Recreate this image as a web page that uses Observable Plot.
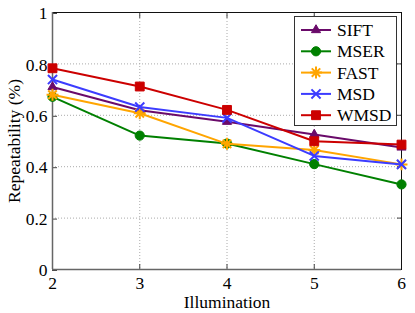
<!DOCTYPE html>
<html><head><meta charset="utf-8">
<script src="https://cdn.jsdelivr.net/npm/d3@7"></script>
<script src="https://cdn.jsdelivr.net/npm/@observablehq/plot@0.6"></script>
<style>body{margin:0;background:#fff;} #chart{width:415px;height:313px;}</style>
</head><body><div id="chart"></div>
<script>
const illumination = [2, 3, 4, 5, 6];
const SIFT = [0.71, 0.62, 0.575, 0.525, 0.475];
const MSER = [0.672, 0.521, 0.49, 0.41, 0.331];
const FAST = [0.68, 0.608, 0.489, 0.465, 0.409];
const MSD  = [0.739, 0.632, 0.59, 0.442, 0.409];
const WMSD = [0.783, 0.712, 0.621, 0.499, 0.486];
const seriesNames = ["SIFT", "MSER", "FAST", "MSD", "WMSD"];
const seriesValues = [SIFT, MSER, FAST, MSD, WMSD];
const seriesColors = ["#6a0a6a", "#008000", "#ffa500", "#3c3cff", "#cc0000"];
const xTicks = [2, 3, 4, 5, 6];
const yTicks = [0, 0.2, 0.4, 0.6, 0.8, 1];
const yTickLabels = ["0", "0.2", "0.4", "0.6", "0.8", "1"];

// custom marker shapes (MATLAB style)
const asterisk8 = {draw(ctx, size) {
  const r = Math.sqrt(size / Math.PI) * 1.15;
  const d = r * Math.SQRT1_2;
  ctx.moveTo(-r, 0); ctx.lineTo(r, 0);
  ctx.moveTo(0, -r); ctx.lineTo(0, r);
  ctx.moveTo(-d, -d); ctx.lineTo(d, d);
  ctx.moveTo(-d, d); ctx.lineTo(d, -d);
}};
const timesX = {draw(ctx, size) {
  const r = Math.sqrt(size / Math.PI) * 0.95;
  ctx.moveTo(-r, -r); ctx.lineTo(r, r);
  ctx.moveTo(-r, r); ctx.lineTo(r, -r);
}};
const symbols = [d3.symbolTriangle, d3.symbolCircle, asterisk8, timesX, d3.symbolSquare];
const filled = [true, true, false, false, true];
const radius = [3.4, 4.6, 5.2, 4.8, 5];

const rows = [];
seriesNames.forEach((name, s) => {
  illumination.forEach((x, i) => rows.push({series: name, s, x, y: seriesValues[s][i]}));
});

const font = "'Liberation Serif', 'Times New Roman', serif";
const marks = [
  Plot.gridX(xTicks, {stroke: "#aaa", strokeOpacity: 1, strokeDasharray: "1,2"}),
  Plot.gridY(yTicks, {stroke: "#aaa", strokeOpacity: 1, strokeDasharray: "1,2"}),
  Plot.axisX(xTicks, {anchor: "bottom", tickSize: -5, tickPadding: 12, stroke: "#444",
    label: "Illumination", labelAnchor: "center", labelArrow: "none", labelOffset: 38, fontSize: 17.5}),
  Plot.axisX(xTicks, {anchor: "top", tickSize: -5, stroke: "#444", label: null, tickFormat: () => ""}),
  Plot.axisY(yTicks, {anchor: "left", tickSize: -5, tickPadding: 10, stroke: "#444", dy: 1,
    tickFormat: d => yTickLabels[yTicks.indexOf(d)],
    label: "Repeatability (%)", labelAnchor: "center", labelArrow: "none", labelOffset: 45, fontSize: 17.5}),
  Plot.axisY(yTicks, {anchor: "right", tickSize: -5, stroke: "#444", label: null, tickFormat: () => ""}),
  Plot.frame({stroke: "#111", strokeWidth: 1}),
  Plot.ruleX([2], {stroke: "#666", strokeWidth: 1.5}),
  Plot.ruleY([0], {stroke: "#666", strokeWidth: 1.5})
];
seriesNames.forEach((name, s) => {
  const data = rows.filter(r => r.s === s);
  marks.push(Plot.line(data, {x: "x", y: "y", stroke: seriesColors[s], strokeWidth: 2}));
  marks.push(Plot.dot(data, {x: "x", y: "y", symbol: () => symbols[s], r: radius[s],
    fill: filled[s] ? seriesColors[s] : "none", stroke: seriesColors[s], strokeWidth: filled[s] ? 1 : 2}));
});

const svg = Plot.plot({
  width: 415, height: 313,
  marginLeft: 52, marginRight: 14, marginTop: 12, marginBottom: 44,
  style: {fontFamily: font, fontSize: "16.5px", color: "#000", background: "#fff", overflow: "visible"},
  x: {domain: [2, 6]},
  y: {domain: [0, 1]},
  symbol: {type: "identity"},
  marks
});

// legend box inside the plot (upper right)
const lg = d3.select(svg).append("g").attr("font-family", font).attr("font-size", 17.5)
  .attr("text-anchor", "start");
lg.append("rect").attr("x", 294.5).attr("y", 16.5).attr("width", 102).attr("height", 109)
  .attr("fill", "#fff").attr("stroke", "#333").attr("stroke-width", 1);
seriesNames.forEach((name, s) => {
  const cy = 30 + s * 21.3;
  lg.append("line").attr("x1", 301).attr("x2", 331).attr("y1", cy).attr("y2", cy)
    .attr("stroke", seriesColors[s]).attr("stroke-width", 2);
  lg.append("path").attr("transform", `translate(316,${cy})`)
    .attr("d", d3.symbol(symbols[s], Math.PI * radius[s] * radius[s])())
    .attr("fill", filled[s] ? seriesColors[s] : "none")
    .attr("stroke", seriesColors[s]).attr("stroke-width", filled[s] ? 1 : 2);
  lg.append("text").attr("x", 337).attr("y", cy).attr("dy", "0.35em")
    .attr("text-anchor", "start").attr("fill", "#000").text(name);
});

document.getElementById("chart").appendChild(svg);
</script>
</body></html>
